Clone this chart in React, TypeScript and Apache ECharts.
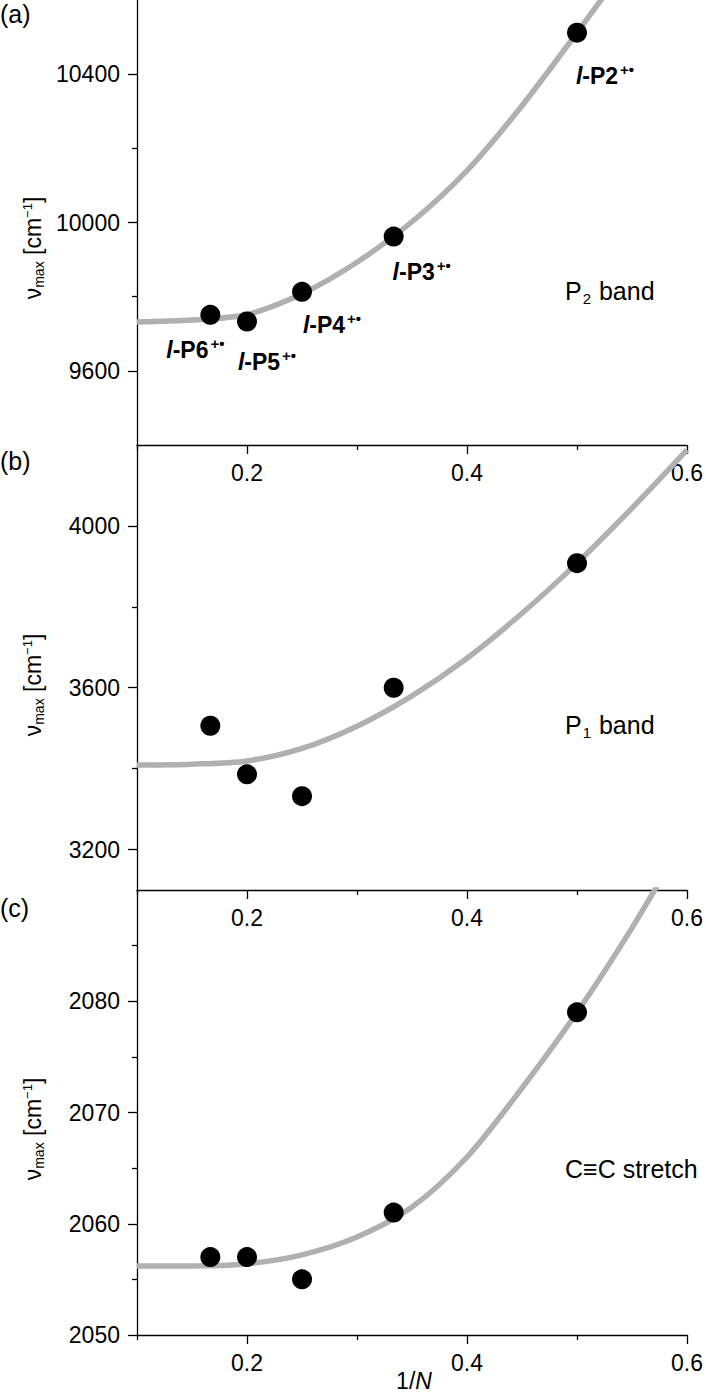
import React, { useEffect, useRef } from 'react';
import * as echarts from 'echarts';

// ---------- data ----------
// x = 1/N for the oligomers N = 6, 5, 4, 3, 2
const invN = [1 / 6, 1 / 5, 1 / 4, 1 / 3, 1 / 2];
const oligomerNames = ['P6', 'P5', 'P4', 'P3', 'P2'];

// (a) P2 band
const p2BandValues = [9751, 9733, 9813, 9962, 10512];
const p2FitX = [0.1, 0.15, 0.2, 0.25, 0.3, 0.35, 0.4, 0.45, 0.5, 0.55];
const p2FitY = [9732, 9737, 9752, 9808, 9893, 10002, 10140, 10315, 10512, 10715];

// (b) P1 band
const p1BandValues = [3506, 3386, 3332, 3600, 3908];
const p1FitX = [0.1, 0.15, 0.2, 0.25, 0.3, 0.35, 0.4, 0.45, 0.5, 0.55, 0.6];
const p1FitY = [3409, 3411, 3419, 3450, 3505, 3580, 3673, 3784, 3908, 4044, 4188];

// (c) C≡C stretch
const ccValues = [2057, 2057, 2055, 2061, 2079];
const ccFitX = [0.1, 0.15, 0.2, 0.25, 0.3, 0.35, 0.4, 0.45, 0.5, 0.55, 0.6];
const ccFitY = [2056.2, 2056.2, 2056.4, 2057.2, 2058.8, 2061.5, 2066.0, 2072.2, 2079.0, 2086.6, 2095.0];

// axes
const xRange = [0.1, 0.6];
const xLabelTicks = [0.2, 0.4, 0.6];
const xMinorTicks = [0.1, 0.3, 0.5];

const yRangeA = [9400, 10600];
const yLabelA = [9600, 10000, 10400];
const yMinorA = [9800, 10200];

const yRangeB = [3100, 4200];
const yLabelB = [3200, 3600, 4000];
const yMinorB = [3400, 3800];

const yRangeC = [2050, 2090];
const yLabelC = [2050, 2060, 2070, 2080];
const yMinorC = [2055, 2065, 2075, 2085];

// ---------- styling ----------
const FONT = 'Liberation Sans';
const INK = '#000';
const FIT_COLOR = '#b0b0b0';
const GRID_LEFT = 137;
const GRID_W = 554;
const GRID_H = 445;
const gridTops = [0, 445, 890];
const labelOffsets = [
  [-15, 35],
  [20, 40],
  [30, 33],
  [28, 35],
  [28, 43],
];

const panels = [
  { yRange: yRangeA, yLabels: yLabelA, yMinor: yMinorA, yInterval: 200, values: p2BandValues, fitX: p2FitX, fitY: p2FitY, labels: true },
  { yRange: yRangeB, yLabels: yLabelB, yMinor: yMinorB, yInterval: 100, values: p1BandValues, fitX: p1FitX, fitY: p1FitY, labels: false },
  { yRange: yRangeC, yLabels: yLabelC, yMinor: yMinorC, yInterval: 5, values: ccValues, fitX: ccFitX, fitY: ccFitY, labels: false },
];

const tickLabelStyle = { fontSize: 23, color: INK, fontFamily: FONT };
const axisLineStyle = { color: INK, width: 1.3 };

function buildOption() {
  const grid: any[] = [];
  const xAxis: any[] = [];
  const yAxis: any[] = [];
  const series: any[] = [];

  panels.forEach((p, i) => {
    grid.push({ left: GRID_LEFT, top: gridTops[i], width: GRID_W, height: GRID_H, containLabel: false });
    xAxis.push({
      type: 'value', gridIndex: i, position: 'bottom', min: xRange[0], max: xRange[1], interval: 0.1,
      axisLine: { show: true, onZero: false, lineStyle: axisLineStyle },
      axisTick: { show: true, inside: false, length: 5, customValues: xMinorTicks, lineStyle: axisLineStyle },
      axisLabel: { show: true, customValues: xLabelTicks, margin: 16, ...tickLabelStyle, formatter: (v: number) => v.toFixed(1) },
      splitLine: { show: false },
    });
    xAxis.push({
      type: 'value', gridIndex: i, position: 'bottom', min: xRange[0], max: xRange[1], interval: 0.1,
      axisLine: { show: false, onZero: false },
      axisTick: { show: true, inside: false, length: 9, customValues: xLabelTicks, lineStyle: axisLineStyle },
      axisLabel: { show: false },
      splitLine: { show: false },
    });
    yAxis.push({
      type: 'value', gridIndex: i, position: 'left', min: p.yRange[0], max: p.yRange[1], interval: p.yInterval,
      axisLine: { show: true, onZero: false, lineStyle: axisLineStyle },
      axisTick: { show: true, inside: false, length: 5, customValues: p.yMinor, lineStyle: axisLineStyle },
      axisLabel: { show: true, customValues: p.yLabels, margin: 17, ...tickLabelStyle, formatter: (v: number) => String(v) },
      splitLine: { show: false },
    });
    yAxis.push({
      type: 'value', gridIndex: i, position: 'left', min: p.yRange[0], max: p.yRange[1], interval: p.yInterval,
      axisLine: { show: false, onZero: false },
      axisTick: { show: true, inside: false, length: 9, customValues: p.yLabels, lineStyle: axisLineStyle },
      axisLabel: { show: false },
      splitLine: { show: false },
    });

    series.push({
      type: 'line', xAxisIndex: 2 * i, yAxisIndex: 2 * i,
      data: p.fitX.map((x, k) => [x, p.fitY[k]]),
      showSymbol: false, smooth: 0.3, clip: true, silent: true,
      lineStyle: { color: FIT_COLOR, width: 5.5, opacity: 1 }, z: 2,
    });
    series.push({
      type: 'scatter', xAxisIndex: 2 * i, yAxisIndex: 2 * i,
      symbol: 'circle', symbolSize: 20, itemStyle: { color: INK, opacity: 1 }, z: 3, silent: true,
      data: invN.map((x, k) => ({
        name: oligomerNames[k],
        value: [x, p.values[k]],
        label: p.labels ? { offset: labelOffsets[k] } : undefined,
      })),
      label: p.labels
        ? {
            show: true, position: 'inside', opacity: 1,
            formatter: (q: any) => `{i|l}{b|-${q.name}}{s|+•}`,
            rich: {
              i: { fontSize: 23, fontWeight: 'bold', fontStyle: 'italic', color: INK, fontFamily: FONT },
              b: { fontSize: 23, fontWeight: 'bold', color: INK, fontFamily: FONT },
              s: { fontSize: 15, fontWeight: 'bold', color: INK, fontFamily: FONT, padding: [0, 0, 12, 2] },
            },
          }
        : { show: false },
    });
  });

  const nameRich = {
    n: { fontSize: 23, color: INK, fontFamily: FONT },
    sub: { fontSize: 14, color: INK, fontFamily: FONT, padding: [12, 0, 0, 0] },
    sup: { fontSize: 13, color: INK, fontFamily: FONT, padding: [0, 0, 11, 0] },
  };
  const yNameCenters = [248, 685, 1129];
  const panelLetters = ['(a)', '(b)', '(c)'];
  const panelLetterY = [14, 461, 908];

  const graphic: any[] = [];
  yNameCenters.forEach((cy) => {
    graphic.push({
      type: 'text', x: 33, y: cy, rotation: Math.PI / 2, silent: true,
      style: {
        text: '{n|ν}{sub|max}{n| [cm}{sup|−1}{n|]}',
        rich: nameRich, fill: INK, fontFamily: FONT, fontSize: 23,
        align: 'center', verticalAlign: 'middle', textAlign: 'center', textVerticalAlign: 'middle',
      },
    });
  });
  panelLetters.forEach((t, i) => {
    graphic.push({
      type: 'text', x: 0, y: panelLetterY[i], silent: true,
      style: { text: t, fill: INK, fontFamily: FONT, fontSize: 25, align: 'left', verticalAlign: 'middle', textAlign: 'left', textVerticalAlign: 'middle' },
    });
  });
  const bandRich = {
    n: { fontSize: 25, color: INK, fontFamily: FONT },
    sub: { fontSize: 15, color: INK, fontFamily: FONT, padding: [15, 1, 0, 1] },
  };
  [
    { text: '{n|P}{sub|2}{n| band}', y: 291 },
    { text: '{n|P}{sub|1}{n| band}', y: 725 },
    { text: '{n|C≡C stretch}', y: 1169 },
  ].forEach((b) => {
    graphic.push({
      type: 'text', x: 565, y: b.y, silent: true,
      style: { text: b.text, rich: bandRich, fill: INK, fontFamily: FONT, fontSize: 25, align: 'left', verticalAlign: 'middle', textAlign: 'left', textVerticalAlign: 'middle' },
    });
  });
  graphic.push({
    type: 'text', x: 414, y: 1381, silent: true,
    style: {
      text: '{n|1/}{i|N}',
      rich: {
        n: { fontSize: 23, color: INK, fontFamily: FONT },
        i: { fontSize: 23, color: INK, fontFamily: FONT, fontStyle: 'italic' },
      },
      fill: INK, fontFamily: FONT, fontSize: 23,
      align: 'center', verticalAlign: 'middle', textAlign: 'center', textVerticalAlign: 'middle',
    },
  });

  return {
    animation: false,
    backgroundColor: '#fff',
    grid, xAxis, yAxis, series, graphic,
  };
}

export default function App() {
  const ref = useRef<HTMLDivElement>(null);
  useEffect(() => {
    document.body.style.margin = '0';
    const chart = echarts.init(ref.current as HTMLDivElement, null, { renderer: 'svg' });
    chart.setOption(buildOption() as any);
    return () => chart.dispose();
  }, []);
  return (
    <div
      ref={ref}
      style={{ position: 'absolute', left: 0, top: 0, width: 706, height: 1397, background: '#fff' }}
    />
  );
}
